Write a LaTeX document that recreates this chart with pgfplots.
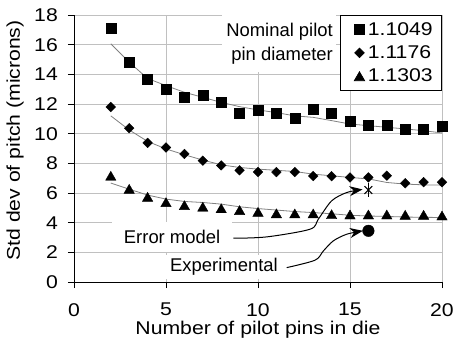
\documentclass[border=0pt]{standalone}
\usepackage{fontspec}
\setmainfont{Liberation Sans}
\newfontfamily\stretchfont{Liberation Sans}[FakeStretch=1.15]
\usepackage{pgfplots}
\pgfplotsset{compat=1.18}
\usetikzlibrary{arrows.meta}
\definecolor{gridgray}{RGB}{192,192,192}
\definecolor{fitgray}{RGB}{128,128,128}
\newcommand{\tfont}{\stretchfont\fontsize{18.5}{21}\selectfont}
\newcommand{\afont}{\fontsize{18.5}{24}\selectfont}
\begin{document}
\begin{tikzpicture}
\begin{axis}[
  scale only axis, width=368bp, height=267bp,
  xmin=0, xmax=20, ymin=0, ymax=18,
  xtick={0,5,10,15,20}, ytick={0,2,...,18},
  axis x line*=bottom, axis y line*=left,
  axis line style={black, line width=0.9bp, -},
  tick align=outside, major tick length=6bp,
  tick style={black, line width=0.9bp},
  grid=major, major grid style={gridgray, line width=0.7bp},
  clip=false,
  /pgf/number format/assume math mode=true,
  tick label style={font=\tfont},
  xticklabel style={inner sep=0pt, anchor=north, yshift=-15bp},
  yticklabel style={inner sep=0pt, anchor=east, xshift=-10bp},
  xlabel={Number of pilot pins in die},
  xlabel style={font=\tfont, at={(axis description cs:0.5,0)}, anchor=north, inner sep=0pt, yshift=-39bp},
  ylabel={Std dev of pitch (microns)},
  ylabel style={font=\tfont, at={(axis description cs:-0.16,0.53)}, anchor=center, inner sep=0pt},
  legend style={at={(axis cs:20,18)}, anchor=north east, draw=black, line width=0.7bp, fill=white,
    font=\tfont, inner xsep=7bp, inner ysep=5bp, row sep=5bp},
  legend cell align=left,
  legend image code/.code={\draw[#1] plot coordinates {(12bp,0bp)}; \path (0bp,0bp) (18bp,0bp);},
]
\addplot[only marks, mark=square*, mark size=5bp, black] coordinates {
(2,17.14) (3,14.84) (4,13.66) (5,13.0) (6,12.46) (7,12.57) (8,12.12) (9,11.38) (10,11.6) (11,11.35)
(12,11.05) (13,11.62) (14,11.36) (15,10.84) (16,10.6) (17,10.57) (18,10.28) (19,10.28) (20,10.52)};
\addlegendentry{1.1049}
\addplot[only marks, mark=square*, mark size=3.4bp, mark options={rotate=45}, black] coordinates {
(2,11.8) (3,10.37) (4,9.38) (5,9.07) (6,8.63) (7,8.18) (8,7.86) (9,7.53) (10,7.42) (11,7.41)
(12,7.41) (13,7.14) (14,7.13) (15,7.05) (16,7.05) (17,7.17) (18,6.66) (19,6.73) (20,6.73)};
\addlegendentry{1.1176}
\addplot[only marks, mark=triangle*, mark size=6bp, mark options={yshift=-1.5bp}, black] coordinates {
(2,7.16) (3,6.28) (4,5.74) (5,5.38) (6,5.18) (7,5.07) (8,4.97) (9,4.85) (10,4.73) (11,4.63)
(12,4.62) (13,4.62) (14,4.57) (15,4.55) (16,4.55) (17,4.55) (18,4.53) (19,4.53) (20,4.48)};
\addlegendentry{1.1303}
% fitted curves
\addplot[fitgray, line width=0.8bp, no marks, forget plot] coordinates {
(2,16.06) (3,14.82) (4,13.72) (5,13.24) (6,12.79) (7,12.45) (8,12.11) (9,11.82) (10,11.6) (11,11.42)
(12,11.2) (13,11.1) (14,10.88) (15,10.65) (16,10.54) (17,10.43) (18,10.32) (19,10.2) (20,10.05)};
\addplot[fitgray, line width=0.8bp, no marks, forget plot] coordinates {
(2,11.2) (3,10.25) (4,9.48) (5,8.97) (6,8.58) (7,8.22) (8,7.9) (9,7.72) (10,7.61) (11,7.53)
(12,7.45) (13,7.27) (14,7.16) (15,7.05) (16,6.95) (17,6.71) (18,6.6) (19,6.55) (20,6.53)};
\addplot[fitgray, line width=0.8bp, no marks, forget plot] coordinates {
(2,6.67) (3,6.26) (4,5.86) (5,5.59) (6,5.43) (7,5.36) (8,5.25) (9,5.07) (10,4.95) (11,4.85)
(12,4.75) (13,4.68) (14,4.6) (15,4.5) (16,4.45) (17,4.42) (18,4.38) (19,4.36) (20,4.35)};
% annotation markers (error model: star, experimental: dot)
\addplot[only marks, mark=x, mark size=5.5bp, black, line width=1.1bp, forget plot] coordinates {(16,6.2)};
\addplot[only marks, mark=|, mark size=7bp, black, line width=1.1bp, forget plot] coordinates {(16,6.2)};
\addplot[only marks, mark=*, mark size=5.8bp, black, forget plot] coordinates {(16,3.45)};
% arrows
\addplot[black, line width=1bp, smooth, tension=0.5, -{Stealth[length=13bp,width=10bp]}, forget plot] coordinates {
(8.66,2.95) (10.47,3.04) (12.83,3.56) (13.28,4.24) (14.0,5.47) (14.82,6.03) (15.68,6.24)};
\addplot[black, line width=1bp, smooth, tension=0.5, -{Stealth[length=13bp,width=10bp]}, forget plot] coordinates {
(11.56,0.97) (13.1,1.47) (13.55,2.09) (14.09,2.77) (14.82,3.22) (15.7,3.45)};
% text boxes
\fill[white] (axis cs:8.05,18) rectangle (axis cs:14.24,14.15);
\node[inner xsep=3bp, inner ysep=0pt, anchor=east, align=right, font=\afont] at (axis cs:14.24,16.07) {Nominal pilot\\pin diameter};
\node[fill=white, inner sep=0pt, minimum width=120bp, minimum height=30bp, font=\afont] at (axis cs:5.33,3.04) {Error model};
\node[fill=white, inner sep=0pt, minimum width=124bp, minimum height=24bp, font=\afont] at (axis cs:8.15,1.01) {Experimental};
\end{axis}
\pgfresetboundingbox
\path (-74bp,-63bp) rectangle (380bp,282bp);
\end{tikzpicture}
\end{document}
